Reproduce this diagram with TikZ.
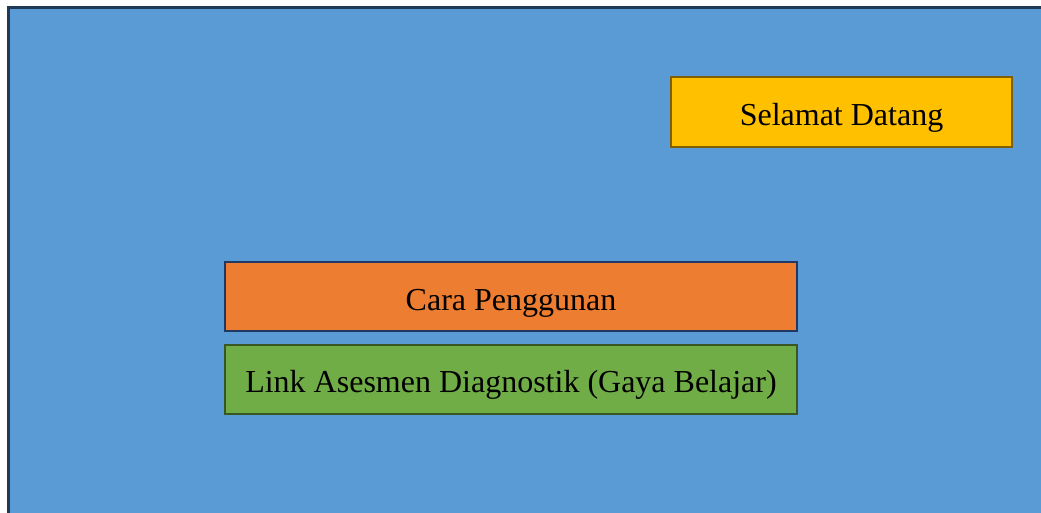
\documentclass[tikz,border=0pt]{standalone}
\usepackage{fontspec}
\setmainfont{Liberation Serif}
\definecolor{bgblue}{HTML}{5B9BD5}
\definecolor{bgedge}{HTML}{203A56}
\definecolor{yel}{HTML}{FFC000}
\definecolor{yeledge}{HTML}{7F6000}
\definecolor{ora}{HTML}{ED7D31}
\definecolor{oraedge}{HTML}{1F3864}
\definecolor{grn}{HTML}{70AD47}
\definecolor{grnedge}{HTML}{385723}
\tikzset{
  boxbase/.style={rectangle, line width=2pt, inner sep=0pt, anchor=north west,
    text height=27pt, text depth=0pt,
    font=\fontsize{32}{38}\selectfont, text=black},
}
\begin{document}
\begin{tikzpicture}[x=1pt,y=-1pt]
\useasboundingbox (0,0) rectangle (1041,513);
\fill[white] (0,0) rectangle (1041,513);
\draw[bgedge, line width=2.5pt, fill=bgblue] (8.5,7.5) rectangle (1060,530);
\node[boxbase, draw=yeledge, fill=yel, minimum width=341pt, minimum height=70pt] (welcome) at (670,76.5) {Selamat Datang};
\node[boxbase, draw=oraedge, fill=ora, minimum width=572pt, minimum height=69pt] (cara) at (224,261) {Cara Penggunan};
\node[boxbase, draw=grnedge, fill=grn, minimum width=572pt, minimum height=69pt] (link) at (224,343.5) {Link Asesmen Diagnostik (Gaya Belajar)};
\end{tikzpicture}
\end{document}
